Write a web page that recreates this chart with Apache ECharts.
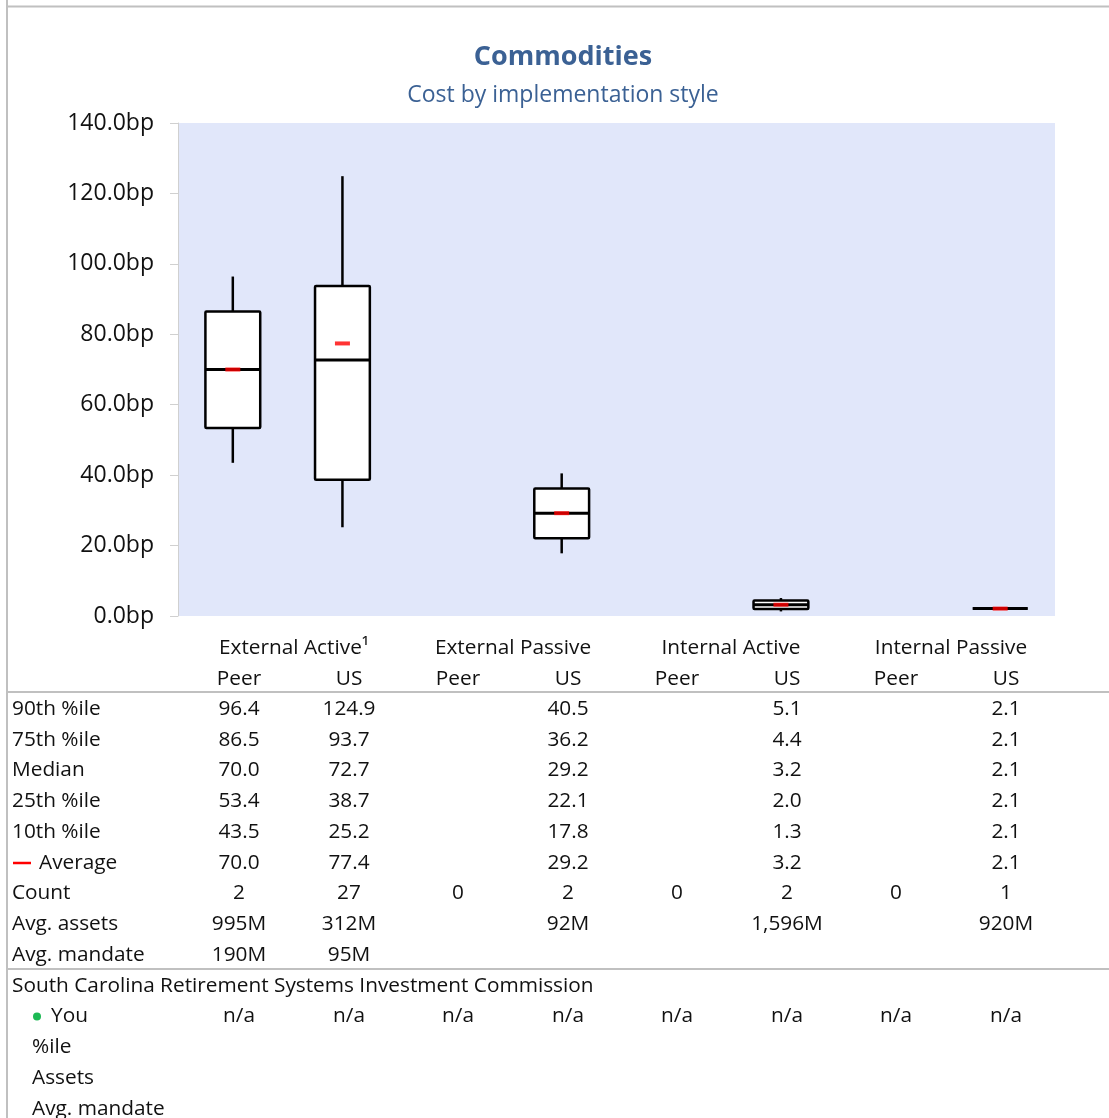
<!DOCTYPE html>
<html>
<head>
<meta charset="utf-8">
<script src="https://cdn.jsdelivr.net/npm/echarts@6/dist/echarts.min.js"></script>
<style>
html,body{margin:0;padding:0;background:#fff;}
#chart{width:1109px;height:1118px;}
</style>
</head>
<body>
<div id="chart"></div>
<script>
// ---- data ----
const categories = ['Peer', 'US', 'Peer', 'US', 'Peer', 'US', 'Peer', 'US'];
const groups = ['External Active\u00b9', 'External Passive', 'Internal Active', 'Internal Passive'];
const p90 = [96.4, 124.9, null, 40.5, null, 5.1, null, 2.1];
const p75 = [86.5, 93.7, null, 36.2, null, 4.4, null, 2.1];
const median = [70.0, 72.7, null, 29.2, null, 3.2, null, 2.1];
const p25 = [53.4, 38.7, null, 22.1, null, 2.0, null, 2.1];
const p10 = [43.5, 25.2, null, 17.8, null, 1.3, null, 2.1];
const average = [70.0, 77.4, null, 29.2, null, 3.2, null, 2.1];
const counts = ['2', '27', '0', '2', '0', '2', '0', '1'];
const avgAssets = ['995M', '312M', '', '92M', '', '1,596M', '', '920M'];
const avgMandate = ['190M', '95M', '', '', '', '', '', ''];
const youValues = ['n/a', 'n/a', 'n/a', 'n/a', 'n/a', 'n/a', 'n/a', 'n/a'];
const orgName = 'South Carolina Retirement Systems Investment Commission';
const yTicks = [0, 20, 40, 60, 80, 100, 120, 140];

// ---- build ----
const boxData = [];
const avgData = [];
for (let i = 0; i < categories.length; i++) {
  if (median[i] != null) {
    boxData.push([i, p10[i], p25[i], median[i], p75[i], p90[i]]);
    avgData.push([i, average[i]]);
  }
}

const FONT = '"Open Sans", "Noto Sans", sans-serif';
const TXT = '#111';
const colX = [239, 349, 458, 568, 677, 787, 896, 1006];
const groupX = [294, 513, 731, 951];
const rowY0 = 709, rowH = 30.75;

const graphics = [];
function txt(x, y, s, align, extra) {
  graphics.push(Object.assign({
    type: 'text', x: x, y: y, silent: true,
    style: { text: s, fill: TXT, font: '20.8px ' + FONT, textAlign: align || 'center', textVerticalAlign: 'middle' }
  }, extra || {}));
}
// border + separators
graphics.push({ type: 'line', shape: { x1: 7, y1: 0, x2: 7, y2: 1118 }, style: { stroke: '#c0c0c0', lineWidth: 2 } });
graphics.push({ type: 'line', shape: { x1: 6, y1: 6.5, x2: 1109, y2: 6.5 }, style: { stroke: '#c0c0c0', lineWidth: 2 } });
graphics.push({ type: 'line', shape: { x1: 6, y1: 692, x2: 1109, y2: 692 }, style: { stroke: '#c0c0c0', lineWidth: 2 } });
graphics.push({ type: 'line', shape: { x1: 6, y1: 969, x2: 1109, y2: 969 }, style: { stroke: '#c0c0c0', lineWidth: 2 } });

// header
groups.forEach((g, i) => txt(groupX[i], 648, g));
categories.forEach((c, i) => txt(colX[i], 679, c));

const fmt = v => v == null ? '' : v.toFixed(1);
const rows = [
  ['90th %ile', p90.map(fmt)],
  ['75th %ile', p75.map(fmt)],
  ['Median', median.map(fmt)],
  ['25th %ile', p25.map(fmt)],
  ['10th %ile', p10.map(fmt)],
  ['Average', average.map(fmt)],
  ['Count', counts],
  ['Avg. assets', avgAssets],
  ['Avg. mandate', avgMandate]
];
rows.forEach((r, k) => {
  const y = rowY0 + k * rowH;
  if (r[0] === 'Average') {
    graphics.push({ type: 'rect', shape: { x: 13, y: y - 1, width: 18, height: 2.5 }, style: { fill: '#ff0000' } });
    txt(39, y, r[0], 'left');
  } else {
    txt(12, y, r[0], 'left');
  }
  r[1].forEach((v, i) => { if (v) txt(colX[i], y, v); });
});
const y2 = rowY0 + 9 * rowH;
txt(12, y2, orgName, 'left');
graphics.push({ type: 'circle', shape: { cx: 37, cy: y2 + rowH, r: 4 }, style: { fill: '#1db954' } });
txt(51, y2 + rowH, 'You', 'left');
youValues.forEach((v, i) => txt(colX[i], y2 + rowH, v));
txt(32, y2 + 2 * rowH, '%ile', 'left');
txt(32, y2 + 3 * rowH, 'Assets', 'left');
txt(32, y2 + 4 * rowH, 'Avg. mandate', 'left');

const chart = echarts.init(document.getElementById('chart'), null, { renderer: 'canvas' });
chart.setOption({
  animation: false,
  backgroundColor: '#fff',
  title: {
    text: 'Commodities',
    subtext: 'Cost by implementation style',
    left: 558, textAlign: 'center',
    top: 39,
    itemGap: 13,
    textStyle: { color: '#3b6194', fontSize: 27, fontWeight: 'bold', fontFamily: FONT },
    subtextStyle: { color: '#3b6194', fontSize: 23, fontFamily: FONT }
  },
  grid: { left: 178, top: 123, width: 877, height: 493, show: true, backgroundColor: '#e1e7fa', borderWidth: 0 },
  xAxis: {
    type: 'category', data: categories,
    axisLine: { show: false }, axisTick: { show: false }, axisLabel: { show: false }, splitLine: { show: false }
  },
  yAxis: {
    type: 'value', min: 0, max: 140, interval: 20,
    axisLine: { show: true, lineStyle: { color: '#d0d0d0', width: 1 } },
    axisTick: { show: true, length: 8, lineStyle: { color: '#d0d0d0' } },
    splitLine: { show: false },
    axisLabel: { margin: 24, color: TXT, fontSize: 23, fontFamily: FONT, formatter: v => v.toFixed(1) + 'bp' }
  },
  series: [
    {
      type: 'custom',
      data: boxData,
      encode: { x: 0, y: [1, 2, 3, 4, 5] },
      renderItem: function (params, api) {
        const xi = api.value(0);
        const pLow = api.coord([xi, api.value(1)]);
        const pQ1 = api.coord([xi, api.value(2)]);
        const pMed = api.coord([xi, api.value(3)]);
        const pQ3 = api.coord([xi, api.value(4)]);
        const pHigh = api.coord([xi, api.value(5)]);
        const bw = api.size([1, 0])[0] * 0.5;
        const cx = pMed[0];
        const stroke = { stroke: '#000', lineWidth: 2.5, fill: null };
        return {
          type: 'group',
          children: [
            { type: 'line', shape: { x1: cx, y1: pHigh[1], x2: cx, y2: pQ3[1] }, style: stroke },
            { type: 'line', shape: { x1: cx, y1: pQ1[1], x2: cx, y2: pLow[1] }, style: stroke },
            { type: 'rect', shape: { x: cx - bw / 2, y: pQ3[1], width: bw, height: pQ1[1] - pQ3[1], r: 1 },
              style: { fill: '#fff', stroke: '#000', lineWidth: 2.5 } },
            { type: 'line', shape: { x1: cx - bw / 2, y1: pMed[1], x2: cx + bw / 2, y2: pMed[1] },
              style: { stroke: '#000', lineWidth: 3 } }
          ]
        };
      }
    },
    {
      type: 'scatter',
      data: avgData,
      symbol: 'rect',
      symbolSize: [15, 4],
      itemStyle: { color: '#ff0000' },
      z: 5
    }
  ],
  graphic: graphics
});
</script>
</body>
</html>
